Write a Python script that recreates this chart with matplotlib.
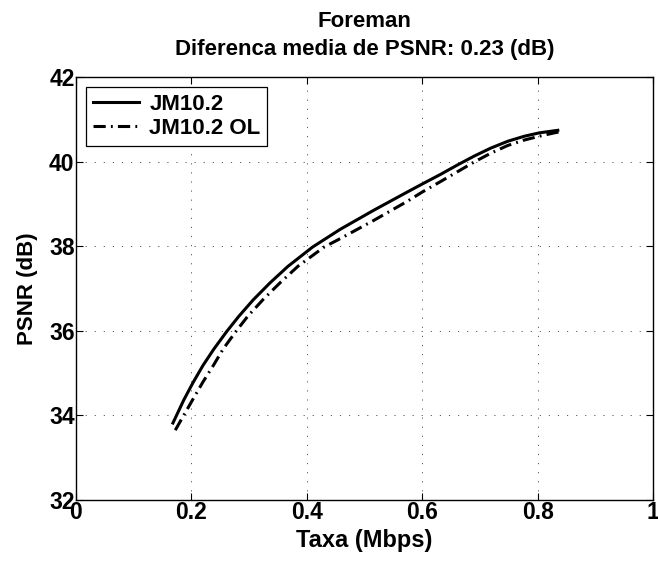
import numpy as np
import matplotlib.pyplot as plt

plt.rcParams['font.family'] = ['Liberation Sans', 'DejaVu Sans']
plt.rcParams['font.weight'] = 'bold'

# curves (rate in Mbps, PSNR in dB)
jm_rate = [0.168, 0.187, 0.203, 0.220, 0.239, 0.261, 0.282, 0.307, 0.336, 0.367,
           0.410, 0.458, 0.516, 0.574, 0.600, 0.632, 0.661, 0.690, 0.719, 0.748,
           0.777, 0.803, 0.835]
jm_psnr = [33.82, 34.37, 34.78, 35.18, 35.57, 35.98, 36.34, 36.73, 37.13, 37.52,
           37.98, 38.40, 38.85, 39.28, 39.47, 39.70, 39.92, 40.13, 40.32, 40.48,
           40.60, 40.68, 40.74]
ol_rate = [0.172, 0.203, 0.220, 0.238, 0.255, 0.278, 0.298, 0.325, 0.354, 0.385,
           0.430, 0.458, 0.516, 0.574, 0.600, 0.632, 0.661, 0.690, 0.719, 0.748,
           0.777, 0.803, 0.829, 0.845]
ol_psnr = [33.65, 34.39, 34.79, 35.18, 35.57, 36.00, 36.35, 36.75, 37.14, 37.53,
           37.98, 38.18, 38.61, 39.06, 39.28, 39.53, 39.76, 39.99, 40.20, 40.38,
           40.51, 40.60, 40.68, 40.72]

x_ticks = [0, 0.2, 0.4, 0.6, 0.8, 1]
x_tick_labels = ['0', '0.2', '0.4', '0.6', '0.8', '1']
y_ticks = [32, 34, 36, 38, 40, 42]

fig = plt.figure(figsize=(6.58, 5.63), dpi=100)
ax = fig.add_axes([0.1155, 0.1119, 0.8769, 0.7513])

ax.plot(jm_rate, jm_psnr, 'k-', lw=2.2, label='JM10.2')
ax.plot(ol_rate, ol_psnr, color='k', lw=2.2, dashes=(4, 1.7, 0.6, 1.7), label='JM10.2 OL')

ax.set_xlim(0, 1)
ax.set_ylim(32, 42)
ax.set_xticks(x_ticks)
ax.set_xticklabels(x_tick_labels)
ax.set_yticks(y_ticks)
ax.tick_params(direction='in', top=True, right=True, length=5, width=0.8,
               labelsize=16.5, pad=1)
for lab in ax.get_xticklabels() + ax.get_yticklabels():
    lab.set_fontweight('bold')
ax.grid(True, color='0.25', lw=0.6, ls=(0, (1.4, 9.5)))
for s in ax.spines.values():
    s.set_linewidth(1.0)

ax.set_xlabel('Taxa (Mbps)', fontsize=17, fontweight='bold', labelpad=3)
ax.set_ylabel('PSNR (dB)', fontsize=16, fontweight='bold', labelpad=8)
ax.set_title('Foreman\nDiferenca media de PSNR: 0.23 (dB)', fontsize=16,
             fontweight='bold', pad=16, linespacing=1.45)

leg = ax.legend(loc='upper left', fontsize=16, frameon=True, fancybox=False,
                edgecolor='k', framealpha=1, borderaxespad=0.45,
                handlelength=2.1, handletextpad=0.45, borderpad=0.3,
                labelspacing=0.15)
leg.get_frame().set_linewidth(0.9)
for t in leg.get_texts():
    t.set_fontweight('bold')

fig.savefig('out.png', dpi=100)
